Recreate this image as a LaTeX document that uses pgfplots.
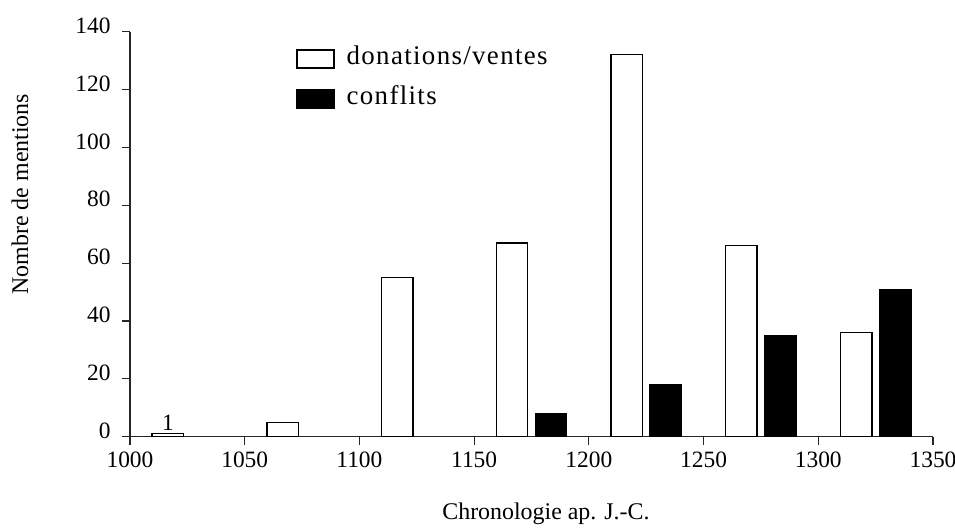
\documentclass[border=0pt]{standalone}
\usepackage{fontspec}
\setmainfont{Liberation Serif}
\newfontfamily\legfont[LetterSpace=5]{Liberation Serif}
\usepackage{pgfplots}
\pgfplotsset{compat=1.18}
\begin{document}
\begin{tikzpicture}
\begin{axis}[
  name=ax,
  scale only axis, width=803bp, height=405bp,
  xmin=1000, xmax=1350, ymin=0, ymax=140,
  axis x line=bottom, axis y line=left,
  axis line style={-, line width=1.2bp, black!85},
  xtick={1000,1050,...,1350}, ytick={0,20,...,140},
  tick align=outside, major tick length=8bp,
  tick style={line width=1.2bp, black!85},
  /pgf/number format/assume math mode=true,
  /pgf/number format/1000 sep={},
  ticklabel style={font=\fontsize{23.5}{25}\selectfont},
  yticklabel style={xshift=-8bp, yshift=6bp},
  xticklabel style={yshift=-4bp},
  xlabel={Chronologie ap. J.-C.},
  ylabel={Nombre de mentions},
  label style={font=\fontsize{24}{26}\selectfont},
  xlabel style={at={(axis description cs:0.518,-0.191)}, anchor=center},
  ylabel style={at={(axis description cs:-0.137,0.599)}, anchor=center},
  ybar, bar width=13.7, bar shift=0pt,
  legend image code/.code={\draw[#1, line width=1.5bp] (0bp,-9bp) rectangle (37bp,9bp);},
  legend style={at={(0.2067,0.968)}, anchor=north west, draw=none, fill=none,
    inner sep=0pt,
    font=\legfont\fontsize{27}{29}\selectfont, row sep=12bp,
    nodes={text height=18bp, text depth=6bp, inner sep=2bp},
    /tikz/every odd column/.append style={column sep=10bp}},
  legend cell align=left,
]
\addplot[draw=black, fill=white, line width=1.3bp] coordinates {
  (1016.5,1) (1066.5,5) (1116.5,55) (1166.5,67) (1216.5,132) (1266.5,66) (1316.5,36)};
\addlegendentry{donations/ventes}
\addplot[draw=black, fill=black, line width=1.3bp] coordinates {
  (1183.5,8) (1233.5,18) (1283.5,35) (1333.5,51)};
\addlegendentry{conflits}
\node[anchor=south, font=\fontsize{23.5}{25}\selectfont, inner sep=3bp] at (axis cs:1016.5,1) {1};
\end{axis}
\pgfresetboundingbox
\path ([xshift=-130bp,yshift=-91.3bp]ax.south west) rectangle ([xshift=22bp,yshift=31.7bp]ax.north east);
\end{tikzpicture}
\end{document}
